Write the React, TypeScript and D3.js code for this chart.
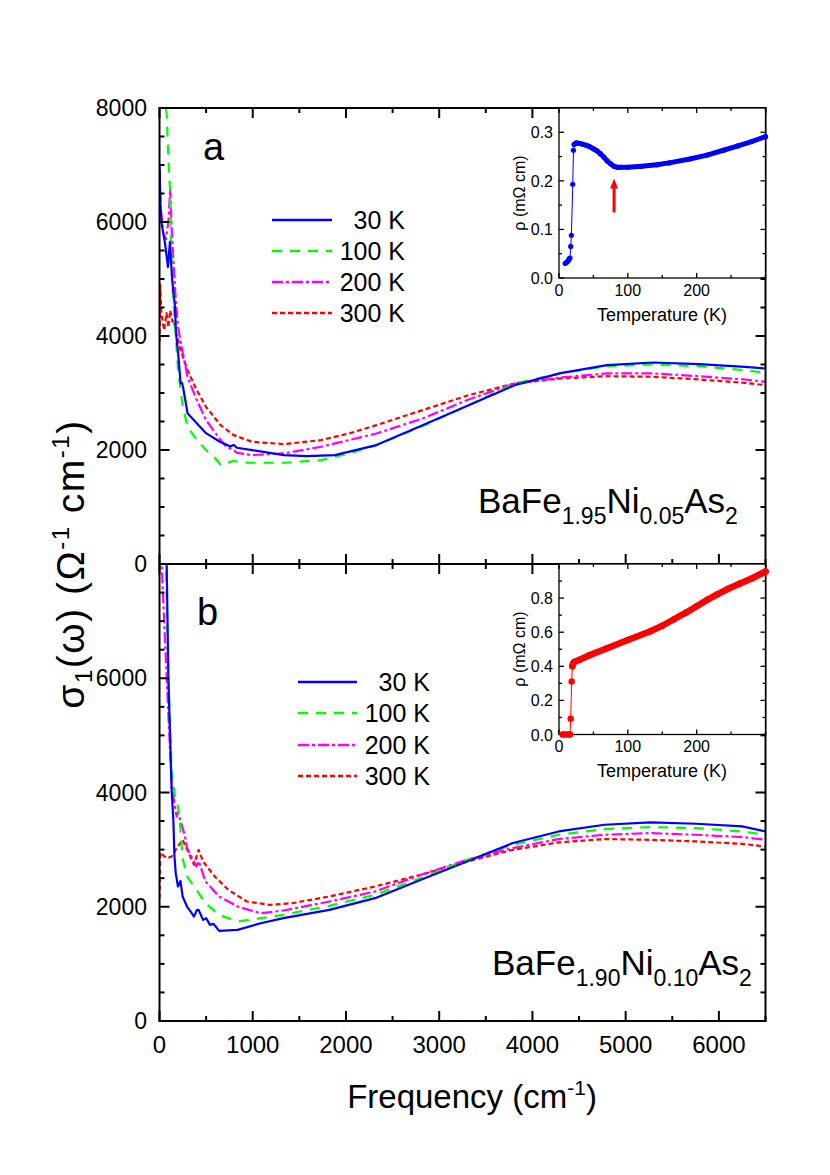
import React from 'react';
import * as d3 from 'd3';

// ---------- data ----------
const tempLabels = ['30 K', '100 K', '200 K', '300 K'];
const seriesColors = ['#0000ff', '#00ff00', '#ff00ff', '#ff0000'];
const seriesDashes = ['none', '10,8', '11,3,3,3', '5,3'];

const freqMajorTicks = [0, 1000, 2000, 3000, 4000, 5000, 6000];
const freqMinorTicks = [500, 1500, 2500, 3500, 4500, 5500, 6500];
const sigmaMajorTicks = [0, 2000, 4000, 6000, 8000];
const sigmaMinorTicks = [500, 1000, 1500, 2500, 3000, 3500, 4500, 5000, 5500, 6500, 7000, 7500];

// panel a : BaFe1.95Ni0.05As2  [frequency cm-1, sigma1 Ohm-1 cm-1]
const a30K: [number, number][] = [
  [0, 7000], [10, 6300], [25, 5950], [59, 5630], [91, 5210], [112, 5650], [135, 5000], [166, 4510],
  [177, 4050], [200, 3700], [226, 3170], [240, 3180], [252, 3110], [301, 2645], [400, 2470],
  [499, 2295], [647, 2145], [760, 2060], [795, 2090], [830, 2040], [992, 1998], [1336, 1910],
  [1582, 1893], [1882, 1910], [2327, 2086], [2822, 2436], [3316, 2787], [3810, 3138], [4304, 3348],
  [4800, 3488], [5293, 3535], [5787, 3506], [6280, 3460], [6500, 3430],
];
const a100K: [number, number][] = [
  [40, 8300], [77, 7900], [95, 7140], [113, 6555], [123, 5680], [141, 4800], [166, 4220], [199, 3400],
  [252, 2735], [301, 2407], [400, 2174], [499, 1998], [600, 1850], [656, 1735], [700, 1760],
  [795, 1811], [870, 1780], [992, 1776], [1336, 1776], [1733, 1823], [2033, 1940], [2327, 2086],
  [2822, 2420], [3316, 2787], [3810, 3167], [4304, 3348], [4800, 3470], [5293, 3500], [5787, 3470],
  [6280, 3400], [6500, 3355],
];
const a200K: [number, number][] = [
  [0, 6900], [15, 6200], [40, 5800], [70, 5700], [95, 6000], [115, 6600], [130, 5900], [150, 5300],
  [175, 4600], [199, 4160], [250, 3700], [301, 3283], [400, 2875], [499, 2524], [656, 2174],
  [720, 2050], [795, 2000], [830, 1950], [992, 1910], [1336, 1940], [1733, 2057], [2033, 2174],
  [2327, 2290], [2822, 2553], [3316, 2886], [3810, 3167], [4304, 3272], [4800, 3343], [5293, 3343],
  [5787, 3295], [6280, 3237], [6500, 3196],
];
const a300K: [number, number][] = [
  [0, 3900], [8, 4900], [20, 4400], [50, 4100], [75, 4400], [95, 4150], [115, 4450], [140, 4250],
  [152, 4277], [180, 4050], [226, 3750], [301, 3400], [400, 3050], [499, 2757], [656, 2436],
  [795, 2261], [992, 2144], [1336, 2103], [1733, 2174], [2033, 2290], [2327, 2436], [2822, 2700],
  [3316, 2962], [3810, 3167], [4304, 3255], [4800, 3295], [5293, 3285], [5787, 3237], [6280, 3178],
  [6500, 3138],
];

// panel b : BaFe1.90Ni0.10As2
const b30K: [number, number][] = [
  [60, 8500], [77, 8000], [95, 6015], [131, 4020], [149, 3500], [160, 2900], [174, 2588], [198, 2355],
  [225, 2450], [248, 2180], [295, 2004], [340, 1900], [370, 1828], [400, 1940], [420, 1946],
  [467, 1770], [500, 1800], [542, 1683], [580, 1700], [639, 1578], [838, 1595], [1085, 1712],
  [1330, 1800], [1822, 1946], [2312, 2150], [2805, 2472], [3298, 2793], [3790, 3115], [4282, 3318],
  [4774, 3435], [5267, 3476], [5757, 3453], [6250, 3406], [6500, 3318],
];
const b100K: [number, number][] = [
  [50, 8500], [70, 8000], [95, 6015], [131, 4345], [165, 3950], [198, 3756], [215, 3550], [248, 2851],
  [295, 2530], [396, 2296], [493, 2063], [639, 1858], [838, 1741], [1085, 1800], [1330, 1858],
  [1822, 2016], [2312, 2209], [2805, 2501], [3298, 2822], [3790, 3085], [4282, 3260], [4774, 3360],
  [5267, 3395], [5757, 3377], [6250, 3318], [6500, 3260],
];
const b200K: [number, number][] = [
  [0, 8200], [23, 8000], [77, 6015], [131, 4100], [184, 3580], [200, 3650], [222, 3523], [274, 3230],
  [295, 3027], [396, 2705], [420, 2800], [493, 2442], [639, 2180], [838, 2004], [1085, 1887],
  [1330, 1934], [1822, 2092], [2312, 2267], [2805, 2560], [3298, 2822], [3790, 3027], [4282, 3185],
  [4774, 3260], [5267, 3290], [5757, 3260], [6250, 3220], [6500, 3172],
];
const b300K: [number, number][] = [
  [0, 2150], [8, 2950], [40, 2900], [80, 2850], [130, 2880], [174, 2997], [248, 3172], [321, 2910],
  [370, 2735], [420, 2997], [467, 2793], [592, 2530], [739, 2296], [936, 2092], [1182, 2033],
  [1429, 2063], [1822, 2180], [2312, 2355], [2805, 2560], [3298, 2793], [3790, 2997], [4282, 3126],
  [4774, 3185], [5267, 3172], [5757, 3143], [6250, 3102], [6500, 3055],
];

// insets: resistivity [T (K), rho (mOhm cm)]
const rhoA: [number, number][] = [
  [9, 0.03], [11, 0.032], [13, 0.035], [14, 0.037], [15, 0.04], [16, 0.041], [17, 0.065], [18, 0.088],
  [20, 0.193], [21, 0.263], [22, 0.275], [25, 0.278], [30, 0.277], [35, 0.275], [40, 0.273],
  [45, 0.27], [50, 0.266], [55, 0.262], [60, 0.256], [65, 0.249], [70, 0.241], [75, 0.235],
  [80, 0.23], [85, 0.228], [90, 0.228], [100, 0.228], [120, 0.23], [142, 0.233], [160, 0.237],
  [190, 0.245], [215, 0.253], [239, 0.263], [260, 0.272], [280, 0.281], [300, 0.291],
];
const rhoB: [number, number][] = [
  [5, 0], [8, 0], [11, 0], [14, 0], [16, 0], [17, 0.093], [18.4, 0.311], [19.4, 0.4], [20.5, 0.415],
  [22, 0.425], [30, 0.438], [45, 0.466], [69, 0.505], [100, 0.554], [133, 0.606], [150, 0.638],
  [167, 0.676], [185, 0.716], [200, 0.752], [215, 0.789], [230, 0.822], [245, 0.853], [263, 0.886],
  [280, 0.915], [300, 0.956],
];
const arrowT = 80;
const arrowRho = [0.135, 0.205];

const tempMajorTicks = [0, 100, 200];
const tempMinorTicks = [50, 150, 250, 300];
const rhoATicks = [0, 0.1, 0.2, 0.3];
const rhoAMinor = [0.05, 0.15, 0.25];
const rhoBTicks = [0, 0.2, 0.4, 0.6, 0.8];
const rhoBMinor = [0.1, 0.3, 0.5, 0.7, 0.9];

const FONT = "'Liberation Sans', Arial, Helvetica, sans-serif";

export default function App() {
  const L = 159.5, R = 765.5, T = 108, M = 564, B = 1021;
  const x = d3.scaleLinear().domain([0, 6500]).range([L, R]);
  const yA = d3.scaleLinear().domain([0, 8000]).range([M, T]);
  const yB = d3.scaleLinear().domain([0, 8000]).range([B, M]);

  const IL = 559;
  const txA = d3.scaleLinear().domain([0, 300]).range([IL, R]);
  const tyA = d3.scaleLinear().domain([0, 0.35]).range([278, T]);
  const tyB = d3.scaleLinear().domain([0, 1.0]).range([734.5, M]);

  const seriesA = [a30K, a100K, a200K, a300K];
  const seriesB = [b30K, b100K, b200K, b300K];

  const lineFor = (ys: d3.ScaleLinear<number, number>) =>
    d3.line<[number, number]>().x(d => x(d[0])).y(d => ys(d[1]));

  const panelTicks = (top: number, bottom: number, ys: d3.ScaleLinear<number, number>, key: string) => {
    const els: any[] = [];
    const maj = 10, min = 5;
    sigmaMajorTicks.forEach((v, i) => {
      const yy = ys(v);
      els.push(<line key={key + 'lM' + i} x1={L} x2={L + maj} y1={yy} y2={yy} />);
      els.push(<line key={key + 'rM' + i} x1={R} x2={R - maj} y1={yy} y2={yy} />);
    });
    sigmaMinorTicks.forEach((v, i) => {
      const yy = ys(v);
      els.push(<line key={key + 'lm' + i} x1={L} x2={L + min} y1={yy} y2={yy} />);
      els.push(<line key={key + 'rm' + i} x1={R} x2={R - min} y1={yy} y2={yy} />);
    });
    freqMajorTicks.forEach((v, i) => {
      const xx = x(v);
      els.push(<line key={key + 'tM' + i} x1={xx} x2={xx} y1={top} y2={top + maj} />);
      els.push(<line key={key + 'bM' + i} x1={xx} x2={xx} y1={bottom} y2={bottom - maj} />);
    });
    freqMinorTicks.forEach((v, i) => {
      const xx = x(v);
      els.push(<line key={key + 'tm' + i} x1={xx} x2={xx} y1={top} y2={top + min} />);
      els.push(<line key={key + 'bm' + i} x1={xx} x2={xx} y1={bottom} y2={bottom - min} />);
    });
    return els;
  };

  const insetTicks = (top: number, bottom: number, ty: d3.ScaleLinear<number, number>, maj: number[], minr: number[], key: string) => {
    const els: any[] = [];
    const a = 5, b = 3;
    maj.forEach((v, i) => {
      const yy = ty(v);
      els.push(<line key={key + 'l' + i} x1={IL} x2={IL + a} y1={yy} y2={yy} />);
      els.push(<line key={key + 'r' + i} x1={R} x2={R - a} y1={yy} y2={yy} />);
    });
    minr.forEach((v, i) => {
      const yy = ty(v);
      els.push(<line key={key + 'lm' + i} x1={IL} x2={IL + b} y1={yy} y2={yy} />);
      els.push(<line key={key + 'rm' + i} x1={R} x2={R - b} y1={yy} y2={yy} />);
    });
    tempMajorTicks.forEach((v, i) => {
      const xx = txA(v);
      els.push(<line key={key + 'b' + i} x1={xx} x2={xx} y1={bottom} y2={bottom - a} />);
      els.push(<line key={key + 't' + i} x1={xx} x2={xx} y1={top} y2={top + a} />);
    });
    tempMinorTicks.forEach((v, i) => {
      const xx = txA(v);
      els.push(<line key={key + 'bm' + i} x1={xx} x2={xx} y1={bottom} y2={bottom - b} />);
      els.push(<line key={key + 'tm' + i} x1={xx} x2={xx} y1={top} y2={top + b} />);
    });
    return els;
  };

  const legend = (x0: number, x1: number, textX: number, rows: number[], key: string) =>
    tempLabels.map((lab, i) => (
      <g key={key + i}>
        <line x1={x0} x2={x1} y1={rows[i]} y2={rows[i]} stroke={seriesColors[i]} strokeWidth={2.5}
          strokeDasharray={seriesDashes[i] === 'none' ? undefined : seriesDashes[i]} />
        <text x={textX} y={rows[i] + 9} fontSize={25} textAnchor="end" fontFamily={FONT}>{lab}</text>
      </g>
    ));

  const insetLine = (ty: d3.ScaleLinear<number, number>) =>
    d3.line<[number, number]>().x(d => txA(d[0])).y(d => ty(d[1]));

  const rhoABand = rhoA.filter(d => d[0] >= 22);
  const rhoBBand = rhoB.filter(d => d[0] >= 19.4);

  return (
    <svg width={830} height={1175} style={{ position: 'absolute', left: 0, top: 0, background: '#fff' }}
      fontFamily={FONT}>
      <defs>
        <clipPath id="clipA"><rect x={L} y={T} width={R - L} height={M - T} /></clipPath>
        <clipPath id="clipB"><rect x={L} y={M} width={R - L} height={B - M} /></clipPath>
      </defs>
      <rect x={0} y={0} width={830} height={1175} fill="#fff" />

      {/* curves */}
      <g clipPath="url(#clipA)" fill="none" strokeWidth={2.2} strokeLinejoin="round">
        {[3, 2, 1, 0].map(i => (
          <path key={'a' + i} d={lineFor(yA)(seriesA[i]) || ''} stroke={seriesColors[i]}
            strokeDasharray={seriesDashes[i] === 'none' ? undefined : seriesDashes[i]} />
        ))}
      </g>
      <g clipPath="url(#clipB)" fill="none" strokeWidth={2.2} strokeLinejoin="round">
        {[3, 2, 1, 0].map(i => (
          <path key={'b' + i} d={lineFor(yB)(seriesB[i]) || ''} stroke={seriesColors[i]}
            strokeDasharray={seriesDashes[i] === 'none' ? undefined : seriesDashes[i]} />
        ))}
      </g>

      {/* frames and ticks */}
      <g stroke="#000" strokeWidth={2} fill="none">
        <rect x={L} y={T} width={R - L} height={B - T} />
        <line x1={L} x2={R} y1={M} y2={M} />
        {panelTicks(T, M, yA, 'A')}
        {panelTicks(M, B, yB, 'B')}
      </g>

      {/* y tick labels */}
      <g fontSize={23} textAnchor="end">
        {sigmaMajorTicks.map(v => <text key={'ya' + v} x={147} y={yA(v) + 8}>{v}</text>)}
        {sigmaMajorTicks.filter(v => v < 8000).map(v => <text key={'yb' + v} x={147} y={yB(v) + 8}>{v}</text>)}
      </g>
      <g fontSize={24} textAnchor="middle">
        {freqMajorTicks.map(v => <text key={'x' + v} x={x(v)} y={1053}>{v}</text>)}
      </g>

      {/* axis titles */}
      <text x={472} y={1108} fontSize={33} textAnchor="middle">
        Frequency (cm<tspan dy={-13} fontSize={21}>-1</tspan><tspan dy={13}>)</tspan>
      </text>
      <text transform={`translate(84,${M}) rotate(-90)`} fontSize={39} textAnchor="middle" letterSpacing={1.5}>
        σ<tspan dy={8} fontSize={24}>1</tspan><tspan dy={-8}>(ω) (Ω</tspan><tspan dy={-15} fontSize={24}>-1</tspan>
        <tspan dy={15}> cm</tspan><tspan dy={-15} fontSize={24}>-1</tspan><tspan dy={15}>)</tspan>
      </text>

      {/* panel letters */}
      <text x={203} y={160} fontSize={38}>a</text>
      <text x={197} y={625} fontSize={38}>b</text>

      {/* legends */}
      {legend(272, 332, 405, [220, 251, 282, 313], 'la')}
      {legend(298, 357, 430, [682, 713, 745, 776], 'lb')}

      {/* compound labels */}
      <text x={478} y={513} fontSize={35}>
        BaFe<tspan dy={11} fontSize={23}>1.95</tspan><tspan dy={-11}>Ni</tspan><tspan dy={11} fontSize={23}>0.05</tspan>
        <tspan dy={-11}>As</tspan><tspan dy={11} fontSize={23}>2</tspan>
      </text>
      <text x={492} y={975} fontSize={35}>
        BaFe<tspan dy={11} fontSize={23}>1.90</tspan><tspan dy={-11}>Ni</tspan><tspan dy={11} fontSize={23}>0.10</tspan>
        <tspan dy={-11}>As</tspan><tspan dy={11} fontSize={23}>2</tspan>
      </text>

      {/* inset a */}
      <rect x={IL} y={T} width={R - IL} height={278 - T} fill="#fff" stroke="#000" strokeWidth={1.3} />
      <g stroke="#000" strokeWidth={1.3}>{insetTicks(T, 278, tyA, rhoATicks, rhoAMinor, 'ia')}</g>
      <path d={insetLine(tyA)(rhoA) || ''} fill="none" stroke="#0000ff" strokeWidth={1} />
      <path d={insetLine(tyA)(rhoABand) || ''} fill="none" stroke="#0000ff" strokeWidth={5} strokeLinecap="round" strokeLinejoin="round" />
      {rhoA.map((d, i) => <circle key={'ra' + i} cx={txA(d[0])} cy={tyA(d[1])} r={2.6} fill="#0000ff" />)}
      <line x1={txA(arrowT)} x2={txA(arrowT)} y1={tyA(arrowRho[0])} y2={tyA(arrowRho[1]) + 8} stroke="#ff0000" strokeWidth={3} />
      <path d={`M${txA(arrowT) - 4},${tyA(arrowRho[1]) + 10} L${txA(arrowT)},${tyA(arrowRho[1])} L${txA(arrowT) + 4},${tyA(arrowRho[1]) + 10} Z`} fill="#ff0000" />
      <g fontSize={16}>
        {rhoATicks.map(v => <text key={'rat' + v} x={553} y={tyA(v) + 6} textAnchor="end">{v.toFixed(1)}</text>)}
        {tempMajorTicks.map(v => <text key={'tat' + v} x={txA(v)} y={296} textAnchor="middle">{v}</text>)}
      </g>
      <text x={662} y={321} fontSize={18} textAnchor="middle">Temperature (K)</text>
      <text transform={`translate(525,193) rotate(-90)`} fontSize={16} textAnchor="middle">ρ (mΩ cm)</text>

      {/* inset b */}
      <rect x={IL} y={M} width={R - IL} height={734.5 - M} fill="#fff" stroke="#000" strokeWidth={1.3} />
      <g stroke="#000" strokeWidth={1.3}>{insetTicks(M, 734.5, tyB, rhoBTicks, rhoBMinor, 'ib')}</g>
      <path d={insetLine(tyB)(rhoB) || ''} fill="none" stroke="#ff0000" strokeWidth={1} />
      <path d={insetLine(tyB)(rhoBBand) || ''} fill="none" stroke="#ff0000" strokeWidth={6.5} strokeLinecap="round" strokeLinejoin="round" />
      {rhoB.map((d, i) => <circle key={'rb' + i} cx={txA(d[0])} cy={tyB(d[1])} r={3.2} fill="#ff0000" />)}
      <g fontSize={16}>
        {rhoBTicks.map(v => <text key={'rbt' + v} x={553} y={tyB(v) + 6} textAnchor="end">{v.toFixed(1)}</text>)}
        {tempMajorTicks.map(v => <text key={'tbt' + v} x={txA(v)} y={752} textAnchor="middle">{v}</text>)}
      </g>
      <text x={662} y={777} fontSize={18} textAnchor="middle">Temperature (K)</text>
      <text transform={`translate(525,649) rotate(-90)`} fontSize={16} textAnchor="middle">ρ (mΩ cm)</text>
    </svg>
  );
}
